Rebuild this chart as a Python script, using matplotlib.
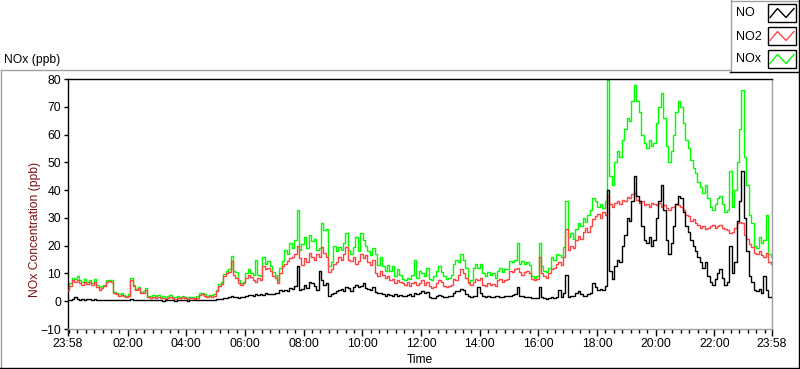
import matplotlib
matplotlib.use("Agg")
import matplotlib.pyplot as plt
from matplotlib.lines import Line2D
from matplotlib.patches import Rectangle
import numpy as np

W, H = 800, 369

# 5-minute readings, 23:58 -> 23:58 (one row per hour)
no2 = [
    4.0, 5.5, 7.5, 7.0, 7.8, 6.5, 6.0, 7.0, 6.2, 6.8, 5.8, 7.0,
    5.0, 4.2, 4.8, 5.5, 7.0, 7.2, 6.8, 2.8, 2.5, 2.0, 2.3, 1.8,
    1.5, 2.0, 7.8, 5.5, 4.2, 4.8, 2.8, 3.0, 4.2, 1.5, 1.2, 1.5,
    1.2, 1.5, 1.0, 1.3, 0.8, 1.2, 1.5, 1.0, 0.9, 1.3, 1.1, 1.4,
    1.0, 0.8, 1.2, 1.0, 0.9, 1.3, 2.2, 2.5, 2.0, 1.5, 1.8, 1.6,
    2.0, 3.5, 5.5, 6.2, 9.0, 10.0, 10.5, 14.5, 9.5, 8.5, 6.5, 5.8,
    6.5, 8.5, 9.5, 8.8, 7.5, 7.0, 8.2, 7.8, 12.5, 11.5, 12.0, 10.8,
    9.0, 8.5, 6.5, 10.0, 12.5, 13.5, 14.5, 15.5, 16.0, 17.0, 20.0, 15.5,
    13.0, 15.5, 14.0, 17.5, 16.0, 15.0, 17.0, 16.0, 19.5, 17.5, 16.0, 10.5,
    11.5, 13.5, 14.0, 16.0, 15.0, 17.0, 19.5, 15.0, 14.5, 16.0, 13.5, 14.5,
    17.0, 15.5, 16.5, 14.0, 13.0, 15.0, 10.0, 9.0, 11.0, 9.5, 8.5, 9.0,
    7.5, 8.0, 6.5, 7.8, 7.0, 6.5, 6.0, 6.8, 5.5, 6.5, 7.0, 6.0,
    6.5, 7.5, 6.0, 7.0, 5.5, 4.8, 5.0, 6.5, 7.5, 6.8, 5.5, 5.0,
    5.5, 6.0, 8.0, 7.5, 9.5, 11.5, 10.0, 8.5, 6.5, 6.0, 7.0, 8.0,
    7.5, 8.5, 6.0, 5.5, 6.5, 5.8, 6.2, 5.5, 7.5, 8.0, 7.0, 7.8,
    8.0, 11.0, 10.5, 11.5, 12.0, 10.5, 9.5, 10.5, 11.0, 10.0, 8.0, 7.5,
    8.0, 16.0, 10.0, 9.0, 8.5, 10.0, 11.5, 12.0, 13.5, 14.0, 13.0, 16.0,
    26.0, 18.5, 20.0, 19.0, 22.0, 23.5, 22.5, 25.0, 26.5, 25.0, 27.0, 29.5,
    30.5, 31.5, 30.0, 32.0, 31.0, 38.0, 35.0, 34.0, 35.5, 36.0, 35.0, 36.5,
    36.0, 37.5, 37.0, 38.5, 39.0, 36.5, 35.5, 36.0, 34.5, 35.0, 34.0, 35.5,
    35.0, 34.5, 35.5, 34.0, 34.5, 33.5, 33.0, 34.0, 34.0, 35.0, 34.5, 34.0,
    33.0, 31.0, 30.5, 29.0, 29.5, 28.0, 27.5, 26.5, 27.0, 26.0, 26.5, 27.0,
    27.5, 26.5, 27.0, 27.5, 26.5, 26.0, 25.5, 24.5, 25.0, 26.5, 28.0, 28.5,
    28.0, 24.0, 22.5, 20.5, 19.5, 17.5, 17.0, 18.0, 16.5, 16.0, 17.5, 14.0,
    13.5,
]

nox = [
    4.5, 6.5, 8.5, 8.0, 9.0, 7.5, 7.0, 8.0, 7.0, 7.8, 6.5, 8.0,
    6.0, 5.0, 5.5, 6.0, 7.5, 7.8, 7.5, 3.2, 3.0, 2.5, 3.0, 2.2,
    2.0, 2.5, 8.5, 6.0, 4.5, 5.2, 3.2, 3.5, 4.8, 2.0, 1.8, 2.2,
    1.8, 2.2, 1.5, 1.8, 1.2, 1.8, 2.2, 1.5, 1.4, 1.8, 1.6, 2.0,
    1.5, 1.2, 1.6, 1.4, 1.3, 1.8, 2.8, 3.0, 2.6, 2.0, 2.4, 2.2,
    2.6, 4.2, 6.2, 7.0, 9.8, 11.0, 11.5, 16.3, 11.0, 10.5, 7.5, 6.5,
    7.0, 10.0, 11.5, 10.0, 9.5, 15.0, 9.5, 9.0, 16.0, 13.5, 14.5, 12.5,
    10.5, 9.5, 7.5, 12.0, 14.5, 18.5, 17.0, 21.0, 19.0, 22.0, 33.0, 18.5,
    20.5, 23.0, 19.0, 24.0, 21.5, 22.5, 18.5, 19.0, 28.0, 25.5, 26.0, 12.5,
    14.0, 20.0, 18.0, 19.5, 18.5, 21.0, 24.5, 18.5, 17.0, 19.5, 23.0, 18.0,
    24.5, 22.0, 20.0, 18.0, 16.5, 19.0, 17.0, 13.0, 16.0, 12.5, 11.0, 13.0,
    11.0, 12.5, 9.0, 11.5, 9.5, 8.0, 7.5, 8.5, 8.0, 9.5, 15.0, 8.5,
    11.0, 10.0, 9.0, 12.0, 8.0, 7.5, 9.0, 11.0, 12.5, 10.5, 9.0, 8.0,
    8.5, 9.5, 13.5, 15.0, 14.0, 17.0, 15.0, 12.0, 7.0, 7.5, 12.0, 13.5,
    12.0, 13.5, 10.0, 9.0, 10.5, 9.5, 10.0, 8.5, 11.0, 12.0, 10.5, 11.5,
    11.5, 14.5, 14.0, 15.0, 21.0, 13.5, 14.5, 13.5, 14.0, 13.0, 9.0, 8.5,
    9.0, 21.0, 12.5, 11.0, 10.5, 12.0, 16.0, 15.0, 17.0, 16.5, 16.0, 19.5,
    36.0, 23.0, 24.5, 22.5, 26.0, 28.0, 27.0, 30.0, 28.5, 31.0, 33.0, 37.0,
    36.0, 34.0, 35.0, 33.5, 36.0, 79.5, 45.0, 42.0, 50.0, 54.0, 52.0, 58.0,
    62.0, 66.0, 65.0, 72.0, 78.0, 72.0, 68.0, 60.0, 57.0, 55.0, 58.0, 56.0,
    57.0, 64.0, 70.0, 75.0, 66.0, 56.0, 50.0, 54.0, 60.0, 68.0, 72.0, 70.0,
    64.0, 58.0, 55.0, 51.0, 48.0, 46.0, 43.0, 41.0, 39.0, 42.0, 37.0, 34.0,
    33.0, 35.0, 37.0, 38.0, 35.0, 32.0, 33.0, 47.0, 34.0, 40.0, 50.0, 62.0,
    76.0, 52.0, 42.0, 31.0, 28.0, 20.0, 19.0, 23.0, 21.0, 22.0, 31.0, 17.0,
    16.0,
]

no = [
    0.5, 0.6, 0.8, 1.5, 0.7, 0.6, 0.8, 0.5, 0.7, 0.9, 0.6, 0.7,
    0.6, 0.5, 0.4, 0.5, 0.3, 0.4, 0.5, 0.3, 0.4, 0.3, 0.5, 0.4,
    0.4, 0.5, 0.8, 0.6, 0.4, 0.5, 0.3, 0.4, 0.5, 0.3, 0.4, 0.3,
    0.3, 0.4, 0.3, 0.2, 0.4, 0.3, 0.3, 0.4, 0.2, 0.3, 0.3, 0.4,
    0.3, 0.2, 0.3, 0.4, 0.3, 0.4, 0.5, 0.6, 0.4, 0.5, 0.4, 0.6,
    0.6, 0.7, 0.8, 0.8, 1.0, 1.2, 1.5, 1.8, 1.4, 1.6, 1.3, 1.5,
    1.5, 2.0, 2.2, 2.4, 2.0, 2.5, 2.2, 2.6, 2.3, 2.8, 2.5, 2.6,
    2.6, 3.0, 2.8, 4.0, 3.5, 4.2, 3.8, 4.8, 4.5, 5.5, 12.5, 4.0,
    4.5, 6.0, 4.8, 7.0, 6.5, 5.5, 4.0, 11.0, 7.5, 6.0, 6.5, 2.0,
    2.5, 3.0, 3.5, 4.0, 4.5, 3.5, 5.0, 4.7, 3.8, 5.0, 6.0, 5.0,
    5.5, 6.5, 4.8, 4.5, 4.0, 5.0, 3.2, 2.8, 3.0, 2.5, 2.0, 2.6,
    2.2, 2.0, 2.5, 2.0, 2.2, 1.8, 2.0, 2.3, 2.5, 2.0, 2.8, 2.5,
    3.0, 3.5, 2.8, 3.2, 1.5, 1.0, 1.2, 2.0, 2.2, 1.8, 1.6, 1.5,
    1.7, 2.0, 3.0, 3.5, 3.8, 4.5, 4.0, 2.5, 1.8, 1.5, 1.8, 2.0,
    5.0, 3.0, 1.7, 1.5, 1.8, 1.6, 1.5, 1.7, 1.8, 1.6, 1.5, 1.8,
    1.8, 2.0, 2.2, 2.5, 5.0, 2.0, 1.8, 1.5, 1.6, 1.4, 1.0, 1.2,
    1.2, 5.0, 1.5, 1.0, 0.8, 1.0, 1.5, 1.2, 1.6, 4.0, 1.5, 3.0,
    9.5, 1.5, 2.0, 1.8, 3.0, 3.5, 2.5, 2.0, 1.8, 2.5, 3.0, 6.5,
    5.0, 4.0, 4.5, 4.0, 5.5, 40.0, 11.0, 8.0, 12.5, 15.0, 14.0, 20.0,
    24.0, 30.0, 29.0, 36.0, 45.0, 38.0, 36.0, 27.0, 22.0, 21.0, 23.0, 20.0,
    22.0, 30.0, 36.0, 42.0, 33.0, 22.0, 17.0, 21.0, 27.0, 35.0, 38.0, 37.0,
    32.0, 27.0, 25.0, 22.0, 20.0, 18.0, 16.0, 14.0, 12.0, 14.0, 9.0, 7.0,
    6.0, 8.0, 10.0, 11.5, 8.5, 6.0, 7.0, 20.0, 10.0, 14.0, 29.0, 36.0,
    47.0, 30.0, 18.0, 9.0, 7.0, 4.0, 3.5, 4.5, 3.0, 9.0, 4.0, 1.5,
    1.5,
]

tick_labels = ["23:58", "02:00", "04:00", "06:00", "08:00", "10:00", "12:00",
               "14:00", "16:00", "18:00", "20:00", "22:00", "23:58"]

minutes = np.arange(len(no)) * 5
span = minutes[-1]

plt.rcParams['font.family'] = ['Liberation Sans', 'DejaVu Sans']
plt.rcParams['font.size'] = 8.7

fig = plt.figure(figsize=(W / 100, H / 100), dpi=100)
fig.patch.set_facecolor('white')


def fx(px):
    return px / W


def fy(py):
    return 1 - py / H


ax = fig.add_axes([fx(68), fy(329), fx(772) - fx(68), fy(79) - fy(329)])

ax.plot(minutes, nox, color='#00ff00', lw=1.0, drawstyle='steps-mid', zorder=2)
ax.plot(minutes, no2, color='#ff4444', lw=1.0, drawstyle='steps-mid', zorder=3)
ax.plot(minutes, no, color='black', lw=1.0, drawstyle='steps-mid', zorder=4)

ax.set_xlim(0, span)
ax.set_ylim(-10, 80)
ax.set_yticks(np.arange(-10, 81, 10))

# major ticks every 2 h from 02:00 (122 min after 23:58), minor at 1/7 of that
major = [0] + [122 + 120 * k for k in range(11)] + [span]
ax.set_xticks(major)
ax.set_xticklabels(tick_labels)
step = 120 / 7
minor = [2 + step * k for k in range(int((span - 2) / step) + 1)]
ax.set_xticks(minor, minor=True)

ax.tick_params(axis='y', length=3, width=1, pad=2, colors='black')
ax.tick_params(axis='x', which='major', length=5, width=1, pad=1.5)
ax.tick_params(axis='x', which='minor', length=3, width=1)

for side in ['top', 'left']:
    ax.spines[side].set_color('black')
    ax.spines[side].set_linewidth(1)
for side in ['right', 'bottom']:
    ax.spines[side].set_color('#a0a0a0')
    ax.spines[side].set_linewidth(1)

fig.text(fx(420), fy(360), 'Time', ha='center', va='center')
fig.text(fx(35), fy(229), 'NOx Concentration (ppb)', rotation=90,
         ha='center', va='center', color='#7a1010')
fig.text(fx(4), fy(60), 'NOx (ppb)', ha='left', va='center')

# outer chart frame
def pline(x0, y0, x1, y1, color, lw=1.0):
    fig.add_artist(Line2D([fx(x0), fx(x1)], [fy(y0), fy(y1)], color=color,
                          lw=lw, transform=fig.transFigure))

pline(0.5, 69.5, 730, 69.5, '#a0a0a0')
pline(0.5, 69.5, 0.5, 368, '#a0a0a0')
pline(0, 367.5, 799.5, 367.5, 'black')
pline(798.5, 72, 798.5, 368, 'black')

# legend box
pline(730.5, 0, 730.5, 72, '#a0a0a0')
pline(730.5, 0.5, 799, 0.5, '#a0a0a0')
pline(730, 72, 799.5, 72, 'black')
pline(798.5, 0, 798.5, 72, 'black')

leg_names = ['NO', 'NO2', 'NOx']
leg_colors = ['black', '#ff4444', '#00ff00']
for i, (name, col) in enumerate(zip(leg_names, leg_colors)):
    top = 4 + 23 * i
    fig.text(fx(736), fy(top + 9.5), name, ha='left', va='center', fontsize=9)
    fig.add_artist(Rectangle((fx(768), fy(top + 17.5)), fx(28), fy(0) - fy(17.5),
                             fill=False, edgecolor='black', lw=1,
                             transform=fig.transFigure))
    xs = [770, 777.5, 786, 794]
    ys = [top + 13.5, top + 4.5, top + 13.5, top + 4.5]
    fig.add_artist(Line2D([fx(v) for v in xs], [fy(v) for v in ys], color=col,
                          lw=1, transform=fig.transFigure))

fig.savefig('out.png', dpi=100)
